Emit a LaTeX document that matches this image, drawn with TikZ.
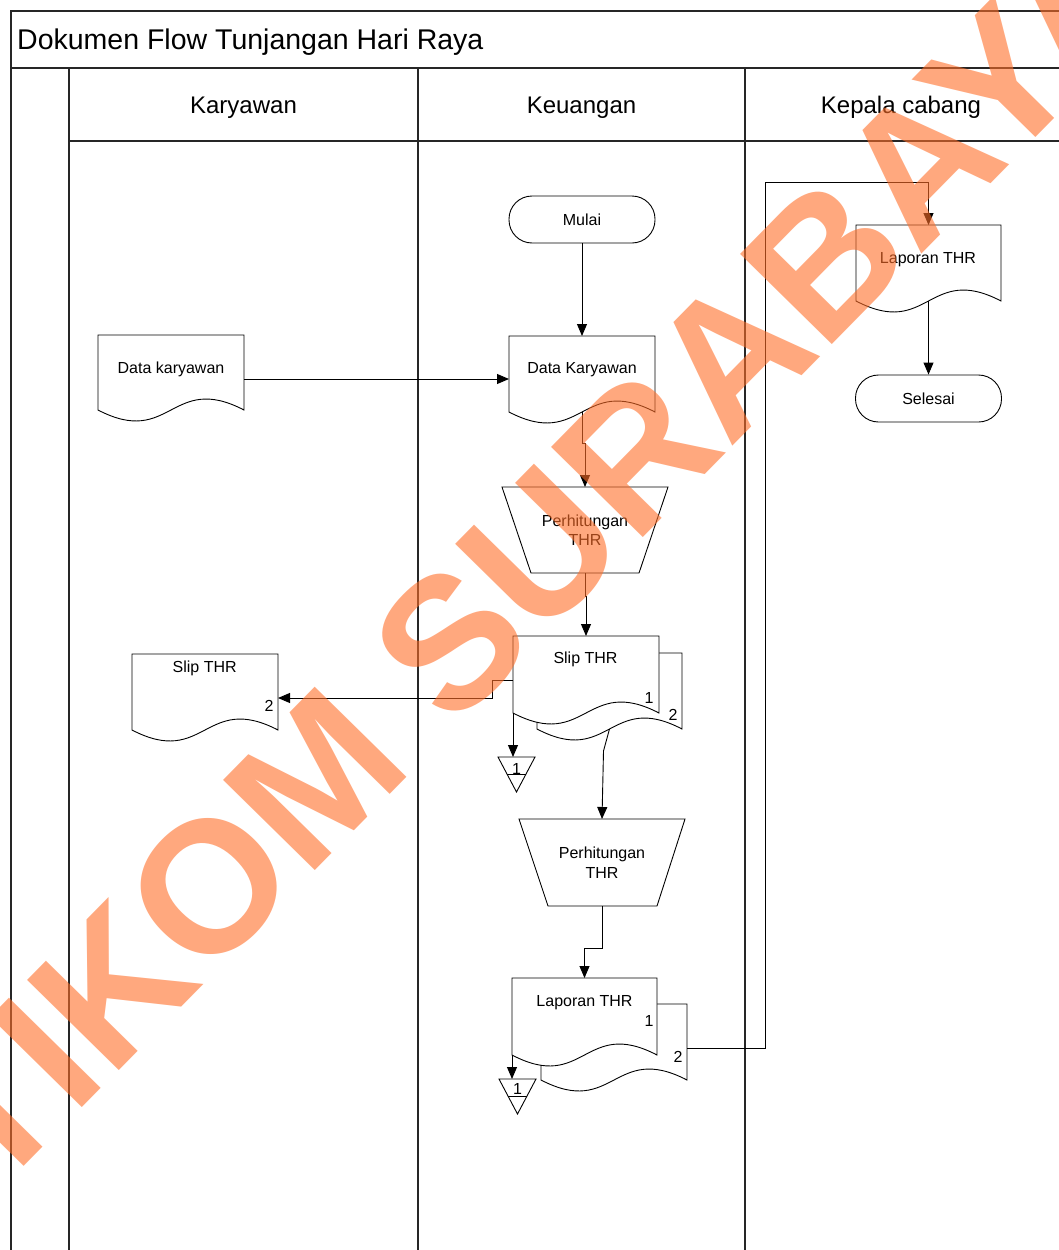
\documentclass[tikz,border=0pt]{standalone}
\usepackage{fontspec}
\setmainfont{Liberation Sans}
\usetikzlibrary{arrows.meta,calc,fit}
\definecolor{wmc}{RGB}{255,110,40}
\newcommand{\docoutline}[1]{%
  \draw[shp] (#1.north west) -- (#1.north east) -- (#1.south east)
    .. controls ($(#1.south)+(0,-38)$) and ($(#1.south)+(0,38)$) .. (#1.south west) -- cycle;}
\newcommand{\offpage}[1]{%
  \draw[shp] (#1.north west) -- (#1.north east) -- (#1.south) -- cycle;
  \draw[conn] ($(#1.north west)!0.5!(#1.south)$) -- ($(#1.north east)!0.5!(#1.south)$);}
\begin{document}
\begin{tikzpicture}[x=1pt,y=-1pt,
  frame/.style={line width=1.3pt, draw=black!85},
  shp/.style={line width=0.9pt, draw=black, fill=white},
  conn/.style={line width=0.9pt, draw=black},
  arr/.style={conn, -{Triangle[length=12pt,width=10pt]}},
  box/.style={inner sep=0pt, outer sep=0pt},
  lbl/.style={font=\fontsize{16}{19}\selectfont, inner sep=0pt, anchor=base},
  lane/.style={font=\fontsize{24}{28}\selectfont, inner sep=0pt, anchor=base},
  term/.style={shp, rectangle, rounded corners=23pt, minimum width=146pt, minimum height=47pt, inner sep=0pt},
]
\useasboundingbox[fill=white] (0,0) rectangle (1059,1250);

% frame
\draw[frame] (11,1250) -- (11,11) -- (1059,11);
\draw[frame] (11,68) -- (1059,68);
\draw[frame] (69,68) -- (69,1250);
\draw[frame] (418,68) -- (418,1250);
\draw[frame] (745,68) -- (745,1250);
\draw[frame] (69,141) -- (1059,141);
\node[font=\fontsize{28.5}{32}\selectfont, inner sep=0pt, anchor=base west] (title) at (17,49.5) {Dokumen Flow Tunjangan Hari Raya};
\node[lane] (l1) at (243.5,113) {Karyawan};
\node[lane] (l2) at (581.5,113) {Keuangan};
\node[lane] (l3) at (901,113) {Kepala cabang};

% shapes
\node[term] (mulai) at (582,219.5) {};
\node[lbl] (mulait) at (582,225) {Mulai};

\node[box, fit={(98,335) (244,410)}] (dkk) {};
\docoutline{dkk}
\node[lbl] (dkkt) at (171,373) {Data karyawan};

\node[box, fit={(509,336) (655,412)}] (dk) {};
\docoutline{dk}
\node[lbl] (dkt) at (582,373) {Data Karyawan};

\node[box, fit={(502,487) (668,573)}] (p1) {};
\draw[shp] (502,487) -- (668,487) -- (639,573) -- (531,573) -- cycle;
\node[lbl] (p1a) at (585,526) {Perhitungan};
\node[lbl] (p1b) at (585,545) {THR};

% slip THR multi
\node[box, fit={(537,653) (682,729)}] (slip2) {};
\docoutline{slip2}
\node[box, fit={(513,636) (659,713)}] (slip) {};
\docoutline{slip}
\node[lbl] (slipt) at (585.5,663) {Slip THR};
\node[lbl] (slipn1) at (649,703) {1};
\node[lbl] (slipn2) at (673,720.5) {2};

\node[box, fit={(132,654) (278,730)}] (slipk) {};
\docoutline{slipk}
\node[lbl] (slipkt) at (204.7,672) {Slip THR};
\node[lbl] (slipkn) at (269,711.5) {2};

\node[box, fit={(498,757) (535,792)}] (off1) {};
\offpage{off1}
\node[lbl] (off1t) at (516.5,774) {1};

\node[box, fit={(519,819) (685,906)}] (p2) {};
\draw[shp] (519,819) -- (685,819) -- (657,906) -- (548,906) -- cycle;
\node[lbl] (p2a) at (602,858) {Perhitungan};
\node[lbl] (p2b) at (602,878) {THR};

% laporan multi
\node[box, fit={(541,1004) (687,1080)}] (lap2) {};
\docoutline{lap2}
\node[box, fit={(512,978) (657,1055)}] (lap) {};
\docoutline{lap}
\node[lbl] (lapt) at (584.5,1006.5) {Laporan THR};
\node[lbl] (lapn1) at (649,1026.5) {1};
\node[lbl] (lapn2) at (678,1062) {2};

\node[box, fit={(499,1079) (536,1114)}] (off2) {};
\offpage{off2}
\node[lbl] (off2t) at (517.5,1094) {1};

\node[box, fit={(856,225) (1001,301)}] (lapk) {};
\docoutline{lapk}
\node[lbl] (lapkt) at (928,263) {Laporan THR};

\node[term] (sel) at (928.5,398.5) {};
\node[lbl] (selt) at (928.5,404.5) {Selesai};

% connectors
\draw[arr] (mulai.south) -- (dk.north);
\coordinate (c1) at ([yshift=-6.5pt]dkk.east);
\draw[arr] (c1) -- (c1 -| dk.west);
\draw[arr] (dk.south) -- ++(0,31) -| (p1.north);
\draw[arr] (p1.south) -- ++(0,23) -| (slip.north);
\coordinate (c2) at ([yshift=-44pt]slip.north west);
\draw[arr] (c2) -- ++(-21,0) |- ([yshift=-6pt]slipk.east);
\draw[arr] (slip.south west) -- (slip.south west |- off1.north);
\draw[arr] (slip2.south) -- ++(-6,22) -- (p2.north);
\draw[arr] (p2.south) -- ++(0,42) -| (lap.north);
\draw[arr] (lap.south west) -- (lap.south west |- off2.north);
\draw[arr] ([yshift=-6pt]lap2.east) -- ++(78,0) |- ([yshift=43pt]lapk.north) -- (lapk.north);
\draw[arr] (lapk.south) -- (sel.north);

% watermark
\node[text=wmc, text opacity=0.6, inner sep=0pt, anchor=base, rotate=45.5,
  font=\fontsize{187}{187}\selectfont\bfseries] (wmark) at (538.7,643.4) {STIKOM SURABAYA};
\end{tikzpicture}
\end{document}
